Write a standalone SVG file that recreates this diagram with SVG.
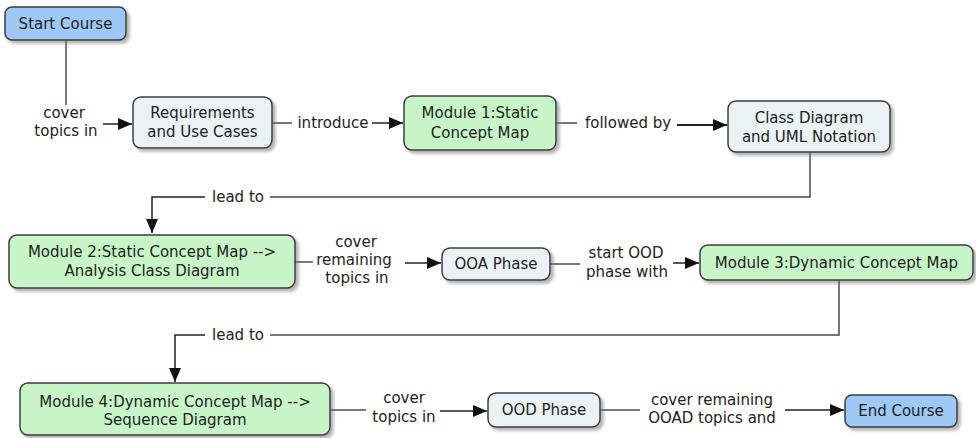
<svg xmlns="http://www.w3.org/2000/svg" width="976" height="438" viewBox="0 0 976 438">
  <style>
    text { font-family: "DejaVu Sans", Verdana, sans-serif; font-size: 15px; fill: #222; text-anchor: middle; }
    .node rect { stroke: #3c3c3c; stroke-width: 1.5; filter: url(#shadow); }
    .terminal rect { fill: #9ec8f6; }
    .topic rect { fill: #eaf2f6; }
    .module rect { fill: #c8f5c8; }
    .edge { fill: none; stroke: #4a4a4a; stroke-width: 1.5; }
    .arrow { marker-end: url(#head); stroke: #222; }
  </style>
  <defs>
    <filter id="shadow" x="-10%" y="-20%" width="125%" height="160%">
      <feDropShadow dx="3" dy="3" stdDeviation="1.5" flood-color="#777" flood-opacity="0.55"/>
    </filter>
    <marker id="head" viewBox="0 0 14 12" refX="14" refY="6" markerWidth="14" markerHeight="12" markerUnits="userSpaceOnUse" orient="auto">
      <path d="M0,0 L14,6 L0,12 Z" fill="#111"/>
    </marker>
  </defs>

  <rect width="976" height="438" fill="#fff"/>

  <!-- connectors -->
  <g id="connectors">
    <!-- Start Course -> Requirements -->
    <path class="edge" d="M66,40 V105"/>
    <path class="edge arrow" d="M103,124 H132"/>
    <!-- Requirements -> Module 1 -->
    <path class="edge" d="M272,123 H292"/>
    <path class="edge arrow" d="M372,123 H403"/>
    <!-- Module 1 -> Class Diagram -->
    <path class="edge" d="M556,123 H577"/>
    <path class="edge arrow" d="M677,125 H727" style="stroke-width:2"/>
    <!-- Class Diagram -> Module 2 -->
    <path class="edge" d="M810,152 V197 H270"/>
    <path class="edge arrow" d="M205,197 H152 V233"/>
    <!-- Module 2 -> OOA Phase -->
    <path class="edge" d="M295,262 H313"/>
    <path class="edge arrow" d="M405,263 H441"/>
    <!-- OOA Phase -> Module 3 -->
    <path class="edge" d="M550,264 H580"/>
    <path class="edge arrow" d="M673,263 H699"/>
    <!-- Module 3 -> Module 4 -->
    <path class="edge" d="M839,280 V335 H270"/>
    <path class="edge arrow" d="M205,335 H175 V382"/>
    <!-- Module 4 -> OOD Phase -->
    <path class="edge" d="M330,410 H366"/>
    <path class="edge arrow" d="M440,411 H487"/>
    <!-- OOD Phase -> End Course -->
    <path class="edge" d="M600,410 H640"/>
    <path class="edge arrow" d="M785,410 H844"/>

    <!-- link labels -->
    <text x="64" y="118">cover</text>
    <text x="66" y="136">topics in</text>
    <text x="333" y="128">introduce</text>
    <text x="628" y="128">followed by</text>
    <text x="238" y="202">lead to</text>
    <text x="356" y="247">cover</text>
    <text x="354" y="265">remaining</text>
    <text x="357" y="283">topics in</text>
    <text x="626" y="258">start OOD</text>
    <text x="627" y="277">phase with</text>
    <text x="238" y="340">lead to</text>
    <text x="404" y="403">cover</text>
    <text x="404" y="422">topics in</text>
    <text x="712" y="405">cover remaining</text>
    <text x="712" y="423">OOAD topics and</text>
  </g>

  <!-- nodes -->
  <g id="start-course" class="node terminal">
    <rect x="5" y="7" width="121" height="33" rx="7"/>
    <text x="65.5" y="29">Start Course</text>
  </g>
  <g id="requirements" class="node topic">
    <rect x="133" y="97" width="139" height="51" rx="8"/>
    <text x="202.5" y="118">Requirements</text>
    <text x="202.5" y="137">and Use Cases</text>
  </g>
  <g id="module-1" class="node module">
    <rect x="404" y="96" width="152" height="54" rx="8"/>
    <text x="480" y="118">Module 1:Static</text>
    <text x="480" y="138">Concept Map</text>
  </g>
  <g id="class-diagram" class="node topic">
    <rect x="728" y="101" width="162" height="51" rx="8"/>
    <text x="809" y="123">Class Diagram</text>
    <text x="809" y="142">and UML Notation</text>
  </g>
  <g id="module-2" class="node module">
    <rect x="9" y="235" width="286" height="53" rx="8"/>
    <text x="152" y="257">Module 2:Static Concept Map --&gt;</text>
    <text x="152" y="276">Analysis Class Diagram</text>
  </g>
  <g id="ooa-phase" class="node topic">
    <rect x="442" y="248" width="108" height="32" rx="8"/>
    <text x="496" y="269">OOA Phase</text>
  </g>
  <g id="module-3" class="node module">
    <rect x="700" y="245" width="273" height="35" rx="8"/>
    <text x="836.5" y="268">Module 3:Dynamic Concept Map</text>
  </g>
  <g id="module-4" class="node module">
    <rect x="20" y="383" width="310" height="52" rx="8"/>
    <text x="175" y="407">Module 4:Dynamic Concept Map --&gt;</text>
    <text x="175" y="425">Sequence Diagram</text>
  </g>
  <g id="ood-phase" class="node topic">
    <rect x="488" y="393" width="112" height="34" rx="8"/>
    <text x="544" y="415">OOD Phase</text>
  </g>
  <g id="end-course" class="node terminal">
    <rect x="845" y="395" width="112" height="32" rx="7"/>
    <text x="901" y="416">End Course</text>
  </g>
</svg>
